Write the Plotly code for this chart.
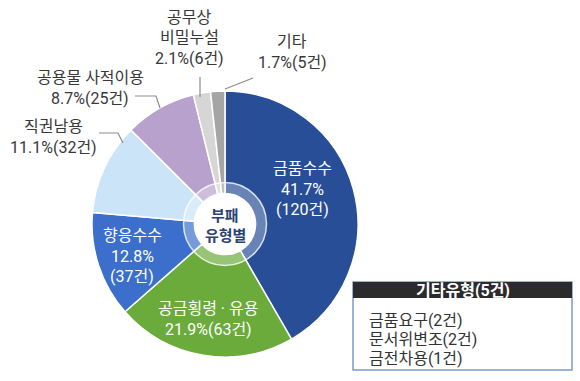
import plotly.graph_objects as go

# ---- data ----
categories = ["금품수수", "공금횡령 · 유용", "향응수수", "직권남용", "공용물 사적이용", "공무상 비밀누설", "기타"]
counts = [120, 63, 37, 32, 25, 6, 5]
percents = [41.7, 21.9, 12.8, 11.1, 8.7, 2.1, 1.7]
other_title = "기타유형(5건)"
other_items = ["금품요구(2건)", "문서위변조(2건)", "금전차용(1건)"]
center_title = ["부패", "유형별"]

colors = ["#284e97", "#6aab3b", "#3b6fcb", "#cbe4f7", "#b8a2cd", "#d6d6d6", "#a5a5a5"]

W, H = 580, 381
CX, CY, R = 225, 224, 133
FONT = "Roboto, Noto Sans CJK KR, sans-serif"


def px(x, y):
    return x / W, 1 - y / H


fig = go.Figure()
fig.add_trace(go.Pie(
    labels=categories, values=counts, sort=False, direction="clockwise", rotation=0,
    hole=0.23, marker=dict(colors=colors, line=dict(color="white", width=1.5)),
    textinfo="none", hoverinfo="label+value", showlegend=False,
    domain=dict(x=[(CX - R) / W, (CX + R) / W], y=[1 - (CY + R) / H, 1 - (CY - R) / H]),
))

shapes = []
# translucent ring around the hole
for rr, lw, col in [(36, 11, "rgba(255,255,255,0.3)"), (41.5, 1.5, "rgba(255,255,255,0.8)")]:
    x0, y1 = px(CX - rr, CY - rr)
    x1, y0 = px(CX + rr, CY + rr)
    shapes.append(dict(type="circle", xref="paper", yref="paper", x0=x0, x1=x1, y0=y0, y1=y1,
                       line=dict(color=col, width=lw), layer="above"))

# leader lines (pixel paths)
leaders = [
    [(200, 77), (200, 97)],
    [(253, 78), (225, 89)],
    [(135, 96), (156, 96), (160, 108)],
    [(99, 133), (118, 133), (123, 143)],
]
for pts in leaders:
    path = ""
    for i, (x, y) in enumerate(pts):
        xp, yp = px(x, y)
        path += ("M" if i == 0 else "L") + f"{xp},{yp} "
    shapes.append(dict(type="path", xref="paper", yref="paper", path=path,
                       line=dict(color="#8c8c8c", width=1.2), layer="above"))

# other-types box
bx0, bx1, by0, by1, byh = 353, 572, 282, 370, 298
a, b = px(bx0, by1)
c, d = px(bx1, by0)
shapes.append(dict(type="rect", xref="paper", yref="paper", x0=a, y0=b, x1=c, y1=d,
                   line=dict(color="#7c9acb", width=1.5), fillcolor="white"))
a, b = px(bx0, byh)
shapes.append(dict(type="rect", xref="paper", yref="paper", x0=a, y0=b, x1=c, y1=d,
                   line=dict(width=0), fillcolor="#2b2b2b"))

annotations = []


def add_lines(x, yc, lines, size=16, color="#383838", bold=False, xanchor="center", gap=20.5):
    n = len(lines)
    for k, line in enumerate(lines):
        y = yc + (k - (n - 1) / 2) * gap
        xp, yp = px(x, y)
        t = f"<b>{line}</b>" if bold else line
        annotations.append(dict(x=xp, y=yp, xref="paper", yref="paper", text=t, showarrow=False,
                                xanchor=xanchor, yanchor="middle",
                                font=dict(family=FONT, size=size, color=color)))


def pct(i):
    return f"{percents[i]}%({counts[i]}건)"


# inside labels
add_lines(302, 189, [categories[0], f"{percents[0]}%", f"({counts[0]}건)"], color="white")
add_lines(208, 319, [categories[1], pct(1)], color="white")
add_lines(132, 256, [categories[2], f"{percents[2]}%", f"({counts[2]}건)"], color="white")
# outside labels
add_lines(53, 137, [categories[3], pct(3)])
add_lines(90, 88, [categories[4], pct(4)])
add_lines(189, 38, categories[5].split(" ") + [pct(5)])
add_lines(292, 52, [categories[6], pct(6)])
# center
add_lines(CX, 226, center_title, size=15, color="#2a4274", bold=True)
# box
add_lines((bx0 + bx1) / 2, 290, [other_title], color="white", bold=True)
add_lines(367, 339, other_items, color="#333333", xanchor="left", gap=19)

fig.update_layout(width=W, height=H, margin=dict(l=0, r=0, t=0, b=0),
                  paper_bgcolor="white", plot_bgcolor="white",
                  shapes=shapes, annotations=annotations)
fig.write_html("out.html", config=dict(displayModeBar=False),
               post_script="document.body.style.margin='0';document.body.style.overflow='hidden';")
